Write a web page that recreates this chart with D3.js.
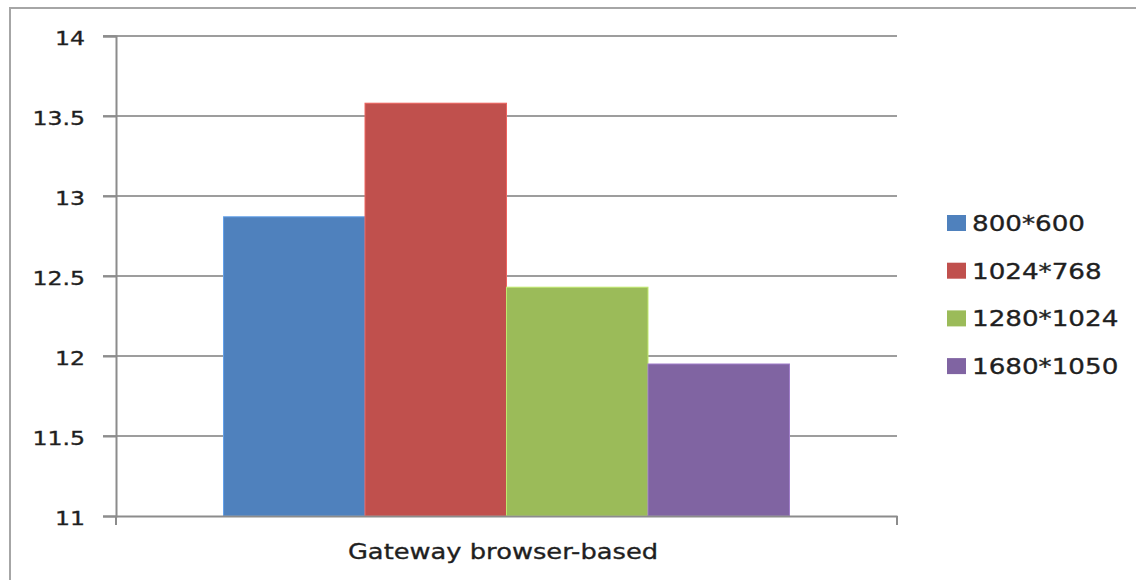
<!DOCTYPE html>
<html>
<head>
<meta charset="utf-8">
<script src="https://cdn.jsdelivr.net/npm/d3@7"></script>
<style>
  html, body { margin: 0; padding: 0; background: #fff; }
  svg { display: block; }
  text { font-family: "DejaVu Sans", Verdana, sans-serif; fill: #1f1f1f; stroke: #1f1f1f; stroke-width: 0.35px; }
</style>
</head>
<body>
<svg id="chart" width="1136" height="580"></svg>
<script>
// Chart data
const categories = ["Gateway browser-based"];
const seriesNames = ["800*600", "1024*768", "1280*1024", "1680*1050"];
const seriesValues = [12.87, 13.58, 12.43, 11.95];
const seriesColors = ["#4F81BD", "#C0504D", "#9BBB59", "#8064A2"];
const yTicks = [11, 11.5, 12, 12.5, 13, 13.5, 14];

const svg = d3.select("#chart");

// Outer chart-area frame (left and top edges visible)
svg.append("path")
  .attr("d", "M10,580 V8 H1136")
  .attr("fill", "none")
  .attr("stroke", "#a6a6a6")
  .attr("stroke-width", 2);

const plot = { left: 116, right: 897, top: 36, bottom: 516 };

const y = d3.scaleLinear()
  .domain([d3.min(yTicks), d3.max(yTicks)])
  .range([plot.bottom, plot.top]);

const x = d3.scaleBand()
  .domain(categories)
  .range([plot.left, plot.right])
  .paddingInner(0)
  .paddingOuter(0.19);

const xs = d3.scaleBand()
  .domain(seriesNames)
  .range([0, x.bandwidth()])
  .padding(0);

// Horizontal gridlines
svg.append("g")
  .selectAll("line")
  .data(yTicks.filter(t => t !== y.domain()[0]))
  .join("line")
  .attr("x1", plot.left - 13)
  .attr("x2", plot.right)
  .attr("y1", d => y(d))
  .attr("y2", d => y(d))
  .attr("stroke", "#9d9d9d")
  .attr("stroke-width", 2);

// Bars
const rows = seriesNames.map((s, i) => ({ name: s, value: seriesValues[i], color: seriesColors[i] }));
svg.append("g")
  .selectAll("rect")
  .data(rows)
  .join("rect")
  .attr("x", d => x(categories[0]) + xs(d.name))
  .attr("width", xs.bandwidth())
  .attr("y", d => y(d.value))
  .attr("height", d => y(y.domain()[0]) - y(d.value))
  .attr("fill", d => d.color)
  .attr("stroke", d => d3.color(d.color).brighter(0.6))
  .attr("stroke-width", 1);

// Y axis
const yAxis = d3.axisLeft(y)
  .tickValues(yTicks)
  .tickSize(13)
  .tickFormat(d => String(d));
const yg = svg.append("g")
  .attr("transform", `translate(${plot.left},0)`)
  .call(yAxis);
yg.select(".domain").attr("stroke", "#8c8c8c").attr("stroke-width", 2);
yg.selectAll(".tick line").attr("stroke", "#8c8c8c").attr("stroke-width", 2);
yg.selectAll(".tick text")
  .attr("x", null).attr("dy", null)
  .attr("transform", "translate(-31,8) scale(1.18,1)")
  .attr("font-size", 20)
  .attr("font-family", "DejaVu Sans")
  .attr("fill", "#1f1f1f");

// X axis
const xAxis = d3.axisBottom(x).tickSize(0).tickFormat(d => d);
const xg = svg.append("g")
  .attr("transform", `translate(0,${plot.bottom})`)
  .call(xAxis);
xg.select(".domain").attr("stroke", "#8c8c8c").attr("stroke-width", 2);
xg.selectAll(".tick")
  .attr("transform", "translate(503,0)");
xg.selectAll(".tick text")
  .attr("y", null).attr("dy", null)
  .attr("transform", "translate(0,43) scale(1.17,1)")
  .attr("font-size", 22)
  .attr("font-family", "DejaVu Sans")
  .attr("fill", "#1f1f1f");
// end ticks on the category axis
xg.selectAll("line.edge")
  .data(x.range())
  .join("line")
  .attr("class", "edge")
  .attr("x1", d => d).attr("x2", d => d)
  .attr("y1", 0).attr("y2", 9)
  .attr("stroke", "#8c8c8c")
  .attr("stroke-width", 2);

// Legend
const legend = svg.append("g").attr("transform", "translate(947,223)");
const li = legend.selectAll("g")
  .data(rows)
  .join("g")
  .attr("transform", (d, i) => `translate(0,${i * 47.7})`);
li.append("rect")
  .attr("x", 0).attr("y", -8)
  .attr("width", 19).attr("height", 16)
  .attr("fill", d => d.color);
li.append("text")
  .attr("transform", "translate(25,8) scale(1.19,1)")
  .attr("font-size", 22)
  .text(d => d.name);
</script>
</body>
</html>
